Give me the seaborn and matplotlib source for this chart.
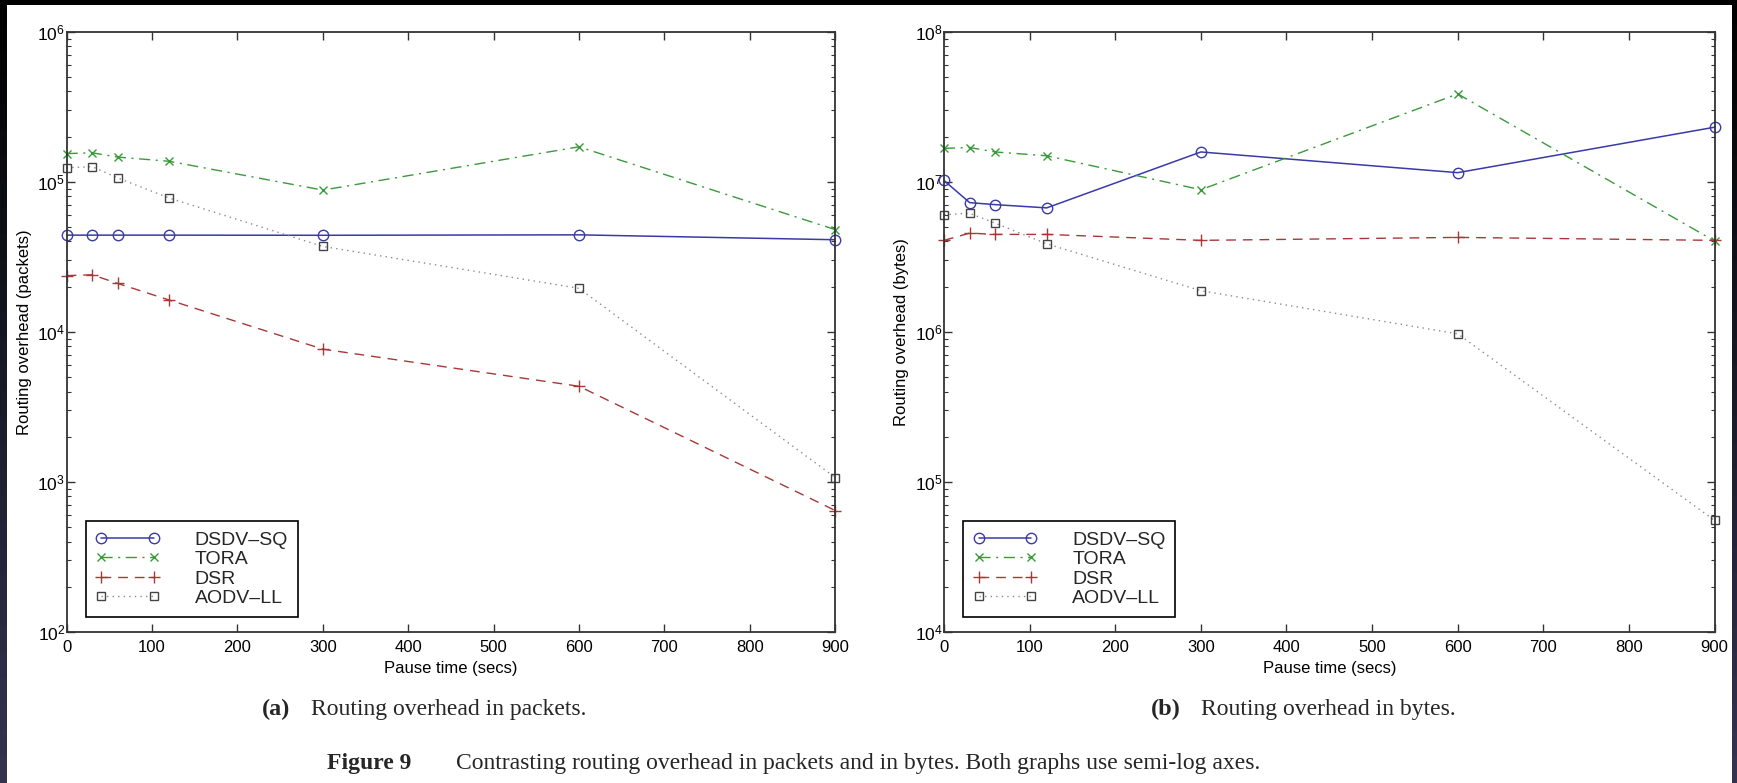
import numpy as np
import pandas as pd
import matplotlib
matplotlib.use("Agg")
import matplotlib.pyplot as plt
import seaborn as sns
from matplotlib.patches import Rectangle

# ---------------- data ----------------
pause_time = [0, 30, 60, 120, 300, 600, 900]
protocols = ["DSDV-SQ", "TORA", "DSR", "AODV-LL"]
legend_labels = ["DSDV\u2013SQ", "TORA", "DSR", "AODV\u2013LL"]

packets_dsdv = [44100, 44100, 44100, 44100, 44000, 44300, 41100]
packets_tora = [154000, 156000, 146000, 137000, 88000, 171000, 48000]
packets_dsr = [23700, 24000, 21000, 16300, 7670, 4340, 645]
packets_aodv = [124000, 126000, 106000, 78000, 37100, 19500, 1070]

bytes_dsdv = [10.2e6, 7.26e6, 7.04e6, 6.70e6, 15.8e6, 11.5e6, 23.1e6]
bytes_tora = [16.7e6, 16.9e6, 15.8e6, 14.9e6, 8.85e6, 38.5e6, 4.03e6]
bytes_dsr = [4.07e6, 4.55e6, 4.46e6, 4.46e6, 4.07e6, 4.26e6, 4.07e6]
bytes_aodv = [6.04e6, 6.16e6, 5.29e6, 3.86e6, 1.88e6, 0.97e6, 55400]

x_ticks = [0, 100, 200, 300, 400, 500, 600, 700, 800, 900]

# ---------------- styles ----------------
styles = {
    "DSDV-SQ": dict(color="#3a3aa8", marker="o", ms=7.5, ls="-", lw=1.1),
    "TORA": dict(color="#3a9a3a", marker="x", ms=6, ls=(0, (8, 4, 1.5, 4)), lw=1.0),
    "DSR": dict(color="#a83838", marker="+", ms=8, ls=(0, (7, 5)), lw=1.0),
    "AODV-LL": dict(color="#8a8a8a", marker="s", ms=6, ls=(0, (1, 3)), lw=1.0),
}
marker_edge = {"DSDV-SQ": "#3a3aa8", "TORA": "#3a9a3a", "DSR": "#a83838", "AODV-LL": "#444444"}

sns.set_theme(style="ticks")
plt.rcParams["font.family"] = ["Liberation Sans", "DejaVu Sans"]
plt.rcParams["mathtext.fontset"] = "custom"
plt.rcParams["mathtext.rm"] = "Liberation Sans"
plt.rcParams["mathtext.it"] = "Liberation Sans:italic"
plt.rcParams["mathtext.bf"] = "Liberation Sans:bold"

fig = plt.figure(figsize=(17.37, 7.83), dpi=100)
fig.patch.set_facecolor("white")

W, H = 1737.0, 783.0
ax_left = fig.add_axes([66.6 / W, 1 - 632 / H, (835.2 - 66.6) / W, (632 - 31.7) / H])
ax_right = fig.add_axes([944 / W, 1 - 632 / H, (1714.6 - 944) / W, (632 - 31.7) / H])

panels = [
    (ax_left, [packets_dsdv, packets_tora, packets_dsr, packets_aodv], (1e2, 1e6), "Routing overhead (packets)"),
    (ax_right, [bytes_dsdv, bytes_tora, bytes_dsr, bytes_aodv], (1e4, 1e8), "Routing overhead (bytes)"),
]

for ax, series, ylim, ylabel in panels:
    for name, lab, vals in zip(protocols, legend_labels, series):
        st = styles[name]
        df = pd.DataFrame({"x": pause_time, "y": vals})
        sns.lineplot(data=df, x="x", y="y", ax=ax, color=st["color"], marker=st["marker"],
                     markersize=st["ms"], linestyle=st["ls"], linewidth=st["lw"],
                     markerfacecolor="none", markeredgecolor=marker_edge[name],
                     markeredgewidth=1.0, label=lab, legend=False, clip_on=False)
    ax.set_yscale("log")
    ax.set_ylim(*ylim)
    ax.set_xlim(0, 900)
    ax.set_xticks(x_ticks)
    ax.set_xlabel("Pause time (secs)", fontsize=12, labelpad=4, color="black")
    ax.set_ylabel(ylabel, fontsize=12, labelpad=4, color="black")
    ax.tick_params(axis="both", which="both", direction="in", top=True, right=True,
                   colors="#333333", labelcolor="black")
    ax.tick_params(axis="x", which="major", length=6, width=1, labelsize=12, pad=6)
    ax.tick_params(axis="y", which="major", length=6, width=1, labelsize=12.5, pad=1)
    ax.tick_params(axis="y", which="minor", length=3, width=0.8)
    ax.tick_params(axis="x", which="minor", bottom=False, top=False)
    for sp in ax.spines.values():
        sp.set_visible(True)
        sp.set_color("#333333")
        sp.set_linewidth(1.3)
    ax.grid(False)
    leg = ax.legend(loc="lower left", bbox_to_anchor=(0.025, 0.025), borderaxespad=0,
                    fontsize=14, frameon=True, fancybox=False, framealpha=1,
                    edgecolor="black", numpoints=2, handlelength=3.3, handletextpad=1.8,
                    labelspacing=0.1, borderpad=0.5)
    leg.get_frame().set_linewidth(1.2)

# ---------------- captions ----------------
serif = ["Liberation Serif", "DejaVu Serif"]
cap_fs = 17
fig.text(262 / W, 1 - 715 / H, "(a)", family=serif, fontsize=cap_fs + 0.5, fontweight="bold", va="baseline", ha="left")
fig.text(311 / W, 1 - 715 / H, "Routing overhead in packets.", family=serif, fontsize=cap_fs, va="baseline", ha="left")
fig.text(1151 / W, 1 - 715 / H, "(b)", family=serif, fontsize=cap_fs + 0.5, fontweight="bold", va="baseline", ha="left")
fig.text(1201 / W, 1 - 715 / H, "Routing overhead in bytes.", family=serif, fontsize=cap_fs, va="baseline", ha="left")
fig.text(327 / W, 1 - 769 / H, "Figure 9", family=serif, fontsize=cap_fs, fontweight="bold", va="baseline", ha="left")
fig.text(456 / W, 1 - 769 / H,
         "Contrasting routing overhead in packets and in bytes. Both graphs use semi-log axes.",
         family=serif, fontsize=cap_fs, va="baseline", ha="left")

# ---------------- dark screen border ----------------
c_top = np.array([0.0, 0.0, 0.0])
c_bot = np.array([0.2, 0.2, 0.31])
n = 30
for i in range(n):
    f = i / (n - 1)
    col = c_top * (1 - f) + c_bot * f
    y0 = 1 - (i + 1) / n
    fig.patches.append(Rectangle((0, y0), 7 / W, 1 / n + 0.001, transform=fig.transFigure,
                                 facecolor=col, edgecolor="none", zorder=10))
    fig.patches.append(Rectangle((1 - 5 / W, y0), 5 / W, 1 / n + 0.001, transform=fig.transFigure,
                                 facecolor=col, edgecolor="none", zorder=10))
fig.patches.append(Rectangle((0, 1 - 5 / H), 1, 5 / H, transform=fig.transFigure,
                             facecolor="black", edgecolor="none", zorder=10))

fig.savefig("out.png", dpi=100)
